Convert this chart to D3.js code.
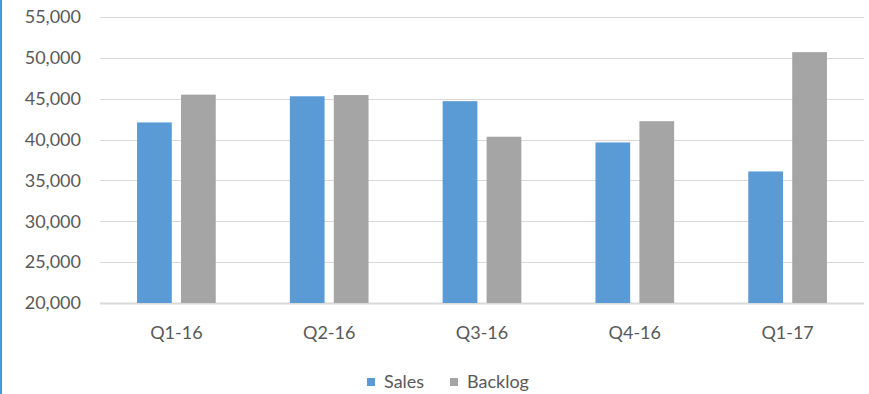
<!DOCTYPE html>
<html>
<head>
<meta charset="utf-8">
<script src="https://cdn.jsdelivr.net/npm/d3@7"></script>
<style>
    body { margin: 0; background: #fff; }
    svg { display: block; font-family: Lato, "Open Sans", sans-serif; }
</style>
</head>
<body>
<svg id="chart"></svg>
<script>
const quarters = ["Q1-16", "Q2-16", "Q3-16", "Q4-16", "Q1-17"];
const seriesNames = ["Sales", "Backlog"];
const sales = [42100, 45300, 44700, 39650, 36100];
const backlog = [45500, 45450, 40350, 42250, 50700];
const yTicks = [20000, 25000, 30000, 35000, 40000, 45000, 50000, 55000];
const colors = ["#5b9bd5", "#a5a5a5"];

const width = 869, height = 394;
const margin = { top: 17, right: 5, bottom: 91, left: 100 };
const innerW = width - margin.left - margin.right;
const innerH = height - margin.top - margin.bottom;
const fontSize = 18;

const rows = quarters.map((q, i) => ({ q, values: [sales[i], backlog[i]] }));

const svg = d3.select("#chart").attr("width", width).attr("height", height);

// thin blue frame edge on the left
svg.append("rect").attr("x", 0).attr("y", 0).attr("width", 2).attr("height", height).attr("fill", "#3d9ddf");

const g = svg.append("g").attr("transform", `translate(${margin.left},${margin.top})`);

const x0 = d3.scaleBand().domain(quarters).range([0, innerW]).paddingInner(0.485).paddingOuter(0.2425);
const x1 = d3.scaleBand().domain(seriesNames).range([0, x0.bandwidth()]).paddingInner(0.21);
const y = d3.scaleLinear().domain([20000, 55000]).range([innerH, 0]);

// gridlines
g.append("g")
    .selectAll("line")
    .data(yTicks)
    .join("line")
    .attr("x1", 0).attr("x2", innerW)
    .attr("y1", d => Math.round(y(d)) + 0.5).attr("y2", d => Math.round(y(d)) + 0.5)
    .attr("stroke", "#d9d9d9")
    .attr("stroke-width", d => d === 20000 ? 2 : 1);

// y tick labels
g.append("g")
    .selectAll("text")
    .data(yTicks)
    .join("text")
    .attr("x", -19)
    .attr("y", d => y(d))
    .attr("dy", "0.35em")
    .attr("text-anchor", "end")
    .attr("font-size", fontSize)
    .attr("fill", "#595959")
    .text(d3.format(","));

// bars
g.append("g")
    .selectAll("g")
    .data(rows)
    .join("g")
    .attr("transform", d => `translate(${x0(d.q)},0)`)
    .selectAll("rect")
    .data(d => d.values.map((v, i) => ({ name: seriesNames[i], v, i })))
    .join("rect")
    .attr("x", d => x1(d.name))
    .attr("y", d => y(d.v))
    .attr("width", x1.bandwidth())
    .attr("height", d => innerH - y(d.v))
    .attr("fill", d => colors[d.i]);

// x labels
g.append("g")
    .selectAll("text")
    .data(quarters)
    .join("text")
    .attr("x", d => x0(d) + x0.bandwidth() / 2)
    .attr("y", innerH + 30)
    .attr("dy", "0.35em")
    .attr("text-anchor", "middle")
    .attr("font-size", fontSize)
    .attr("fill", "#595959")
    .text(d => d);

// legend
const legend = svg.append("g").attr("transform", "translate(367,382)");
const legendX = [0, 83];
seriesNames.forEach((name, i) => {
    const item = legend.append("g").attr("transform", `translate(${legendX[i]},0)`);
    item.append("rect").attr("x", 0).attr("y", -4).attr("width", 8).attr("height", 8).attr("fill", colors[i]);
    item.append("text")
        .attr("x", 17).attr("y", 0).attr("dy", "0.35em")
        .attr("font-size", fontSize).attr("fill", "#595959")
        .text(name);
});
</script>
</body>
</html>
